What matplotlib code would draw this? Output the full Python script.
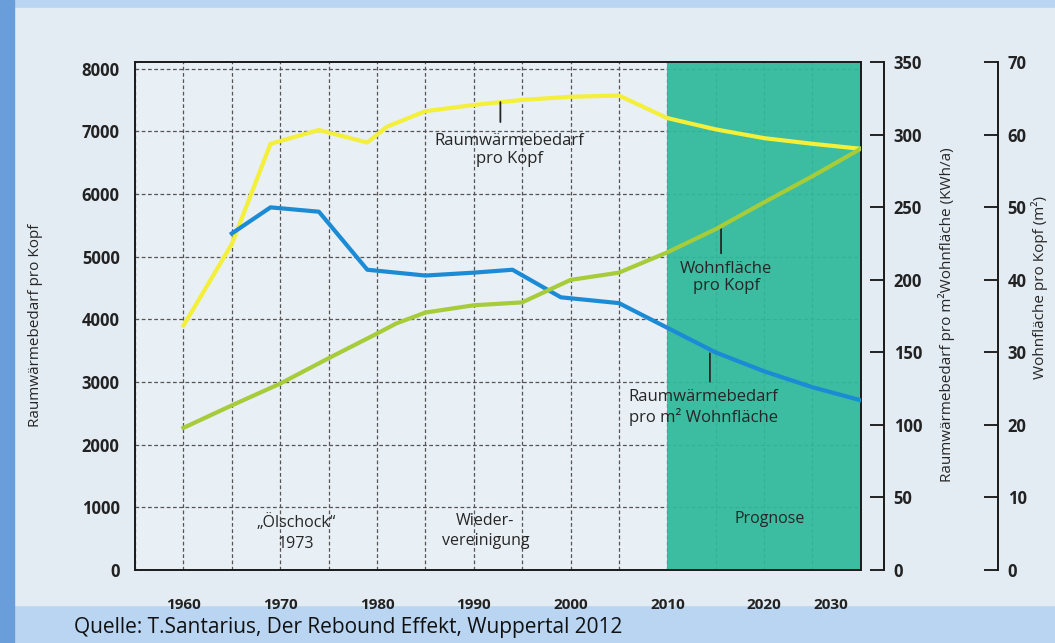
import matplotlib

matplotlib.use("Agg")

import matplotlib.pyplot as plt
import matplotlib.transforms as mtransforms
from matplotlib.patches import Rectangle
from matplotlib.ticker import MultipleLocator

# Raumwärmebedarf pro Kopf (linke Achse)
years_kopf = [1960, 1965, 1969, 1974, 1979, 1981, 1985, 1990, 1995, 2000, 2005, 2010, 2015, 2020, 2025, 2030]
waerme_kopf = [3900, 5200, 6800, 7020, 6820, 7070, 7320, 7420, 7500, 7550, 7570, 7210, 7030, 6890, 6800, 6720]

# Raumwärmebedarf pro m² Wohnfläche (kWh/a, rechte Achse 1)
years_m2 = [1965, 1969, 1974, 1979, 1985, 1990, 1994, 1999, 2005, 2010, 2015, 2020, 2025, 2030]
waerme_m2 = [232, 250, 247, 207, 203, 205, 207, 188, 184, 167, 150, 137, 126, 117]

# Wohnfläche pro Kopf (m², rechte Achse 2)
years_flaeche = [1960, 1965, 1970, 1975, 1980, 1982, 1985, 1990, 1995, 2000, 2005, 2010, 2015, 2020, 2025, 2030]
flaeche = [19.6, 22.7, 25.7, 29.2, 32.6, 34.0, 35.5, 36.5, 36.9, 40.0, 41.0, 43.8, 47.0, 50.7, 54.3, 58.1]

x_ticks = [1960, 1970, 1980, 1990, 2000, 2010, 2020, 2030]
prognose_start, prognose_end = 2010, 2030

YELLOW = "#f3ef3a"
BLUE = "#1b8bd6"
GREEN = "#a7cc3a"
TEAL = "#2fb99b"
BG = "#e4ecf3"
TEXT = "#262626"
FONT = ["Open Sans", "DejaVu Sans"]

plt.rcParams["font.family"] = FONT

fig = plt.figure(figsize=(10.55, 6.43), dpi=100, facecolor="#b9d5f1")

# scanned page background + slide strip on the left
fig.patches.append(Rectangle((14 / 1055, 38 / 643), 1, 597 / 643, transform=fig.transFigure,
                             color=BG, zorder=-10))
fig.patches.append(Rectangle((0, 0), 14 / 1055, 1, transform=fig.transFigure,
                             color="#6a9edb", zorder=-9))

ax = fig.add_axes((0.128, 0.1135, 0.688, 0.7896))
ax.set_facecolor("#e8eff5")
ax.set_xlim(1955, 2030)
ax.set_ylim(0, 8100)
ax.set_axisbelow(True)

ax.xaxis.set_major_locator(MultipleLocator(10))
ax.xaxis.set_minor_locator(MultipleLocator(5))
ax.set_xticks(x_ticks)
ax.yaxis.set_major_locator(MultipleLocator(1000))
ax.grid(which="both", color="#555555", linestyle=(0, (3, 2)), linewidth=0.9)
ax.tick_params(axis="x", which="both", length=0, pad=20, labelsize=11)
ax.tick_params(axis="y", length=0, pad=11, labelsize=12)
for lbl in ax.get_xticklabels() + ax.get_yticklabels():
    lbl.set_fontweight("bold")
    lbl.set_color("#222222")
last = ax.get_xticklabels()[-1]
last.set_transform(last.get_transform() + mtransforms.ScaledTranslation(-0.3, 0, fig.dpi_scale_trans))
for sp in ax.spines.values():
    sp.set_color("#1a1a1a")
    sp.set_linewidth(1.4)

ax.axvspan(prognose_start, prognose_end, color=TEAL, alpha=0.93, lw=0)

ax.plot(years_kopf, waerme_kopf, color=YELLOW, lw=3, solid_joinstyle="round", zorder=3)
ax.set_ylabel("Raumwärmebedarf pro Kopf", fontsize=11, color=TEXT)
ax.yaxis.set_label_coords(-0.1377, 0.4826)

# rechte Achse 1
ax2 = ax.twinx()
ax2.set_ylim(0, 350)
ax2.plot(years_m2, waerme_m2, color=BLUE, lw=3, solid_joinstyle="round")
# rechte Achse 2
ax3 = ax.twinx()
ax3.set_ylim(0, 70)
ax3.plot(years_flaeche, flaeche, color=GREEN, lw=3, solid_joinstyle="round")

for a, pos, top, step in ((ax2, 1.0317, 350, 50), (ax3, 1.1887, 70, 10)):
    for side in ("top", "bottom", "left"):
        a.spines[side].set_visible(False)
    a.spines["right"].set_position(("axes", pos))
    a.spines["right"].set_bounds(0, top)
    a.spines["right"].set_color("#1a1a1a")
    a.spines["right"].set_linewidth(1.4)
    a.yaxis.set_major_locator(MultipleLocator(step))
    a.tick_params(axis="y", direction="in", length=10, width=1.4, pad=7, labelsize=12, colors="#222222")
    for lbl in a.get_yticklabels():
        lbl.set_fontweight("bold")

ax2.set_ylabel("Raumwärmebedarf pro m²Wohnfläche (KWh/a)", fontsize=11, color=TEXT, rotation=90)
ax2.yaxis.set_label_coords(1.1185, 0.502)
ax3.set_ylabel("Wohnfläche pro Kopf (m²)", fontsize=11, color=TEXT, rotation=90)
ax3.yaxis.set_label_coords(1.2466, 0.557)
for a in (ax, ax2, ax3):
    a.yaxis.label.set_ha("center")
    a.yaxis.label.set_va("center")

# Beschriftungen der Kurven
notes = [
    ("Raumwärmebedarf\npro Kopf", 1993.7, 6700, 1992.75, 7466, 7147),
    ("Wohnfläche\npro Kopf", 2016.1, 4667, 2015.55, 5477, 5053),
    ("Raumwärmebedarf\npro m² Wohnfläche", 2013.7, 2593, 2014.4, 3457, 3004),
]
for txt, tx, ty, lx, ly0, ly1 in notes:
    ax.text(tx, ty, txt, ha="center", va="center", fontsize=12, color=TEXT,
            linespacing=1.15, zorder=5)
    ax.annotate("", xy=(lx, ly1), xytext=(lx, ly0),
                arrowprops=dict(arrowstyle="-", color=TEXT, lw=1.3, shrinkA=0, shrinkB=0))

ax.text(1971.6, 590, "\u201eÖlschock\u201c\n1973", ha="center", va="center", fontsize=11.5,
        color=TEXT, linespacing=1.35)
ax.text(1991.2, 622, "Wieder-\nvereinigung", ha="center", va="center", fontsize=11.5,
        color=TEXT, linespacing=1.3)
ax.text(2020.6, 814, "Prognose", ha="center", va="center", fontsize=11.5, color=TEXT)

fig.text(74 / 1055, 1 - 628 / 643, "Quelle: T.Santarius, Der Rebound Effekt, Wuppertal 2012",
         ha="left", va="center", fontsize=15, color="#111111")

fig.savefig("out.png", dpi=100, facecolor=fig.get_facecolor())
